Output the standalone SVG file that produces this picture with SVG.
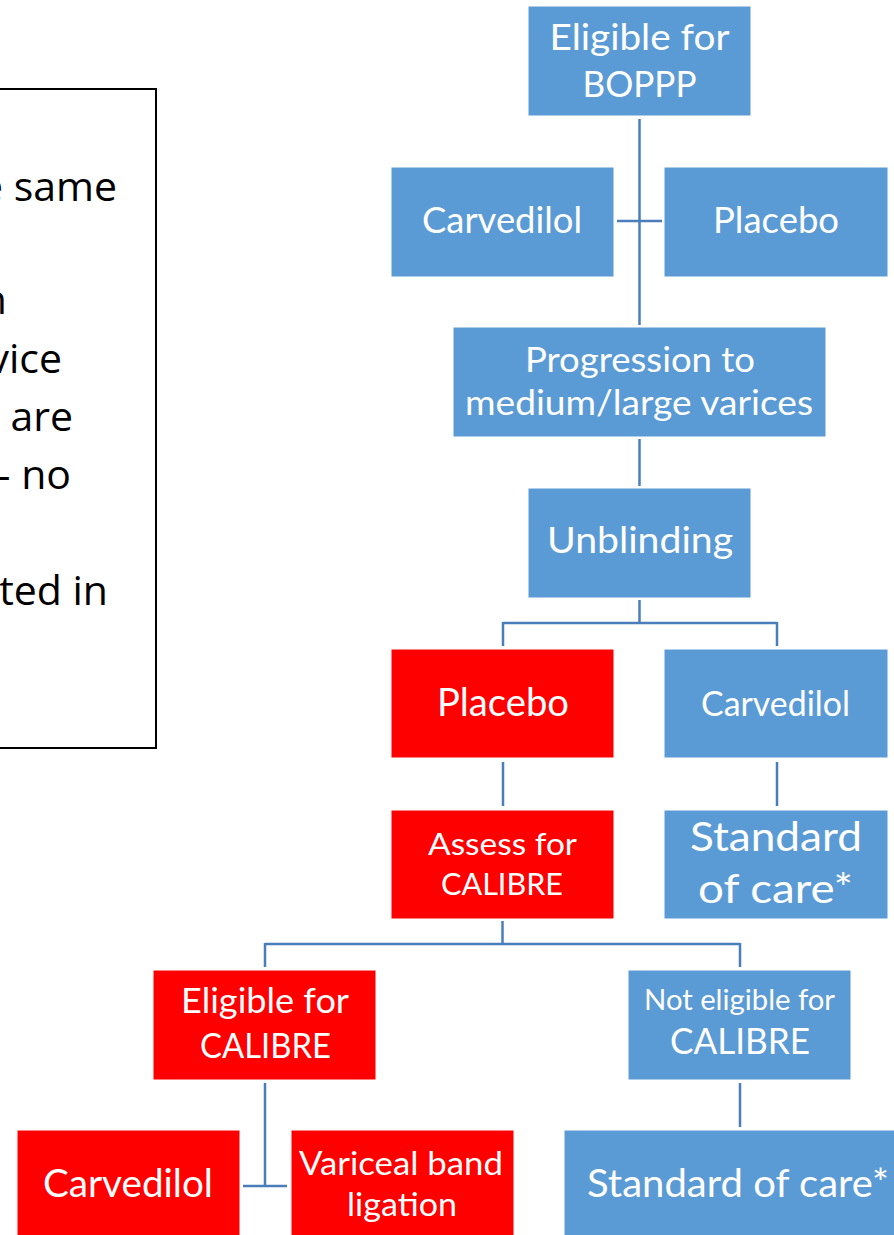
<svg xmlns="http://www.w3.org/2000/svg" width="894" height="1235" viewBox="0 0 894 1235">
<style>
.b{fill:#5B9BD5;stroke:#FFFFFF;stroke-width:1}
.r{fill:#FF0000;stroke:#FFFFFF;stroke-width:1}
.t{font-family:Lato,"Open Sans",sans-serif;fill:#FFFFFF;text-anchor:middle}
.k{font-family:"Open Sans","Noto Sans",sans-serif;fill:#000000;text-anchor:end;font-size:41px}
.c{fill:none;stroke:#4A7EBB;stroke-width:2.5}
</style>
<rect x="0" y="0" width="894" height="1235" fill="#FFFFFF"/>
<g id="note">
<rect x="-20" y="89" width="176" height="659" fill="#FFFFFF" stroke="#000000" stroke-width="2"/>
<text class="k" x="117" y="201">e same</text>
<text class="k" x="7" y="314">n</text>
<text class="k" x="62" y="373">vice</text>
<text class="k" x="73" y="431">are</text>
<text class="k" x="71" y="489">- no</text>
<text class="k" x="108" y="605">ted in</text>
</g>
<g id="connectors">
<path class="c" d="M639.5,119 V325"/>
<path class="c" d="M617,221 H662"/>
<path class="c" d="M639.5,439 V486"/>
<path class="c" d="M639.5,600 V623 M503,623 H777 M503,622 V646 M777,622 V646"/>
<path class="c" d="M503,762 V806"/>
<path class="c" d="M777,762 V806"/>
<path class="c" d="M502.5,921 V944 M265,944 H740 M265,943 V967 M740,943 V967"/>
<path class="c" d="M265,1083 V1186 M243,1186 H287"/>
<path class="c" d="M740,1083 V1127"/>
</g>
<g id="n1"><rect class="b" x="528" y="6" width="223" height="110"/>
<text class="t" x="639.5" y="50" font-size="36" textLength="180" lengthAdjust="spacingAndGlyphs">Eligible for</text>
<text class="t" x="639.5" y="97" font-size="36" textLength="114" lengthAdjust="spacingAndGlyphs">BOPPP</text></g>
<g id="n2"><rect class="b" x="391" y="167" width="223" height="110"/>
<text class="t" x="502" y="233" font-size="36" textLength="160" lengthAdjust="spacingAndGlyphs">Carvedilol</text></g>
<g id="n3"><rect class="b" x="664" y="167" width="224" height="110"/>
<text class="t" x="776" y="233" font-size="36" textLength="126" lengthAdjust="spacingAndGlyphs">Placebo</text></g>
<g id="n4"><rect class="b" x="453" y="327" width="373" height="110"/>
<text class="t" x="640" y="372" font-size="34" textLength="230" lengthAdjust="spacingAndGlyphs">Progression to</text>
<text class="t" x="639" y="415" font-size="34" textLength="348" lengthAdjust="spacingAndGlyphs">medium/large varices</text></g>
<g id="n5"><rect class="b" x="528" y="488" width="223" height="110"/>
<text class="t" x="640" y="553" font-size="36" textLength="186" lengthAdjust="spacingAndGlyphs">Unblinding</text></g>
<g id="n6"><rect class="r" x="391" y="649" width="223" height="109"/>
<text class="t" x="503" y="716" font-size="38" textLength="132" lengthAdjust="spacingAndGlyphs">Placebo</text></g>
<g id="n7"><rect class="b" x="664" y="649" width="224" height="109"/>
<text class="t" x="775.5" y="716" font-size="34" textLength="149" lengthAdjust="spacingAndGlyphs">Carvedilol</text></g>
<g id="n8"><rect class="r" x="391" y="810" width="223" height="109"/>
<text class="t" x="502.5" y="855" font-size="31" textLength="149" lengthAdjust="spacingAndGlyphs">Assess for</text>
<text class="t" x="502" y="895" font-size="31" textLength="122" lengthAdjust="spacingAndGlyphs">CALIBRE</text></g>
<g id="n9"><rect class="b" x="664" y="810" width="224" height="109"/>
<text class="t" x="776" y="851" font-size="40" textLength="172" lengthAdjust="spacingAndGlyphs">Standard</text>
<text class="t" x="775.5" y="903" font-size="40" textLength="155" lengthAdjust="spacingAndGlyphs">of care*</text></g>
<g id="n10"><rect class="r" x="153" y="970" width="223" height="110"/>
<text class="t" x="265" y="1013" font-size="35" textLength="168" lengthAdjust="spacingAndGlyphs">Eligible for</text>
<text class="t" x="265.5" y="1058" font-size="35" textLength="131" lengthAdjust="spacingAndGlyphs">CALIBRE</text></g>
<g id="n11"><rect class="b" x="628" y="970" width="223" height="110"/>
<text class="t" x="739.5" y="1010" font-size="28" textLength="191" lengthAdjust="spacingAndGlyphs">Not eligible for</text>
<text class="t" x="740" y="1054" font-size="37" textLength="140" lengthAdjust="spacingAndGlyphs">CALIBRE</text></g>
<g id="n12"><rect class="r" x="17" y="1130" width="223" height="112"/>
<text class="t" x="128" y="1197" font-size="39" textLength="170" lengthAdjust="spacingAndGlyphs">Carvedilol</text></g>
<g id="n13"><rect class="r" x="291" y="1130" width="223" height="112"/>
<text class="t" x="401" y="1175" font-size="33" textLength="204" lengthAdjust="spacingAndGlyphs">Variceal band</text>
<text class="t" x="402" y="1216" font-size="33" textLength="110" lengthAdjust="spacingAndGlyphs">ligation</text></g>
<g id="n14"><rect class="b" x="564" y="1130" width="352" height="112"/>
<text class="t" x="738" y="1197" font-size="39" textLength="302" lengthAdjust="spacingAndGlyphs">Standard of care*</text></g>
</svg>
